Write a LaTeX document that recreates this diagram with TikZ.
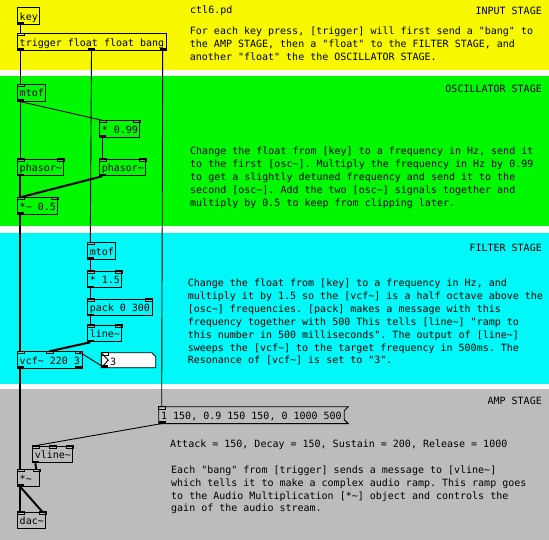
\documentclass[tikz,border=0pt]{standalone}
\usepackage{fontspec}
\setmonofont{DejaVu Sans Mono}
\usepackage{xcolor}
\usepackage{tikz}
\usetikzlibrary{calc}
\definecolor{inputYellow}{RGB}{248,248,0}
\definecolor{oscGreen}{RGB}{0,248,0}
\definecolor{filterCyan}{RGB}{0,248,248}
\definecolor{ampGray}{RGB}{188,188,188}
\newcommand{\Sig}{\textasciitilde}
\tikzset{
  pdobj/.style={draw, line width=0.9pt, anchor=north west, inner xsep=2pt, inner ysep=0pt,
    minimum height=16.7pt, text height=10pt, text depth=2pt},
  pdmsg/.style={pdobj, draw=none, minimum height=16pt},    % outline drawn by hand
  pdnum/.style={anchor=north west, inner sep=0pt, minimum width=54pt, minimum height=14.6pt},
  note/.style={anchor=north west, inner sep=0pt, align=left},
  header/.style={anchor=north east, inner sep=0pt},
  inlet/.style={draw, line width=0.6pt},
  outlet/.style={fill=black},
  ctlWire/.style={line width=0.9pt},
  sigWire/.style={line width=2pt}
}
% inlets and outlets of a box, spread over its width
\newcommand{\PdPorts}[3]{%
  \ifnum#2>0
  \foreach \i in {1,...,#2}{%
    \pgfmathsetmacro{\portFrac}{(\i-1)/max(#2-1,1)}%
    \coordinate (#1-i\i) at ($(#1.north west)!\portFrac!(#1.north east)+({3-7*\portFrac},0)$);
    \draw[inlet] ($(#1-i\i)+(-3,0)$) rectangle ++(7,2.2);
  }%
  \fi
  \ifnum#3>0
  \foreach \i in {1,...,#3}{%
    \pgfmathsetmacro{\portFrac}{(\i-1)/max(#3-1,1)}%
    \coordinate (#1-o\i) at ($(#1.south west)!\portFrac!(#1.south east)+({3-7*\portFrac},0)$);
    \fill[outlet] ($(#1-o\i)+(-3,0)$) rectangle ++(7,-2.5);
  }%
  \fi
}
\newcommand{\PdObj}[6]{%
  \node[pdobj] (#1) at (#2,#3) {#4};
  \PdPorts{#1}{#5}{#6}%
}

\begin{document}
\begin{tikzpicture}[x=1pt, y=-1pt, font=\ttfamily\fontsize{10}{12.9}\selectfont]
  \fill[white] (0,0) rectangle (549,540);
  \useasboundingbox (0,0) rectangle (549,540);
  % stage canvases
  \fill[inputYellow] (0,0) rectangle (549,70);
  \fill[oscGreen] (0,76) rectangle (549,226);
  \fill[filterCyan] (0,232.7) rectangle (549,383.5);
  \fill[ampGray] (0,389) rectangle (549,540);

  % input stage
  \PdObj{key}{17.3}{7.3}{key}{0}{1}
  \PdObj{trig}{17.3}{33.3}{trigger float float bang}{1}{3}
  \node[note] (title) at (190,4.5) {\strut ctl6.pd};
  \node[header] (inputHead) at (542,5) {\strut INPUT STAGE};
  \node[note] (inputNote) at (189.7,25.6) {\strut For each key press, [trigger] will first send a "bang" to\\
    the AMP STAGE, then a "float" to the FILTER STAGE, and\\
    another "float" the the OSCILLATOR STAGE.};

  % oscillator stage
  \PdObj{oscMtof}{17.3}{84}{mtof}{1}{1}
  \PdObj{detune}{99.3}{120.3}{* 0.99}{2}{1}
  \PdObj{phasorA}{17.3}{158.7}{phasor\Sig}{2}{1}
  \PdObj{phasorB}{99.3}{158.7}{phasor\Sig}{2}{1}
  \PdObj{oscMix}{17.3}{197.3}{*\Sig{} 0.5}{2}{1}
  \node[header] (oscHead) at (542,83.6) {\strut OSCILLATOR STAGE};
  \node[note] (oscNote) at (190,145.6) {\strut Change the float from [key] to a frequency in Hz, send it\\
    to the first [osc\Sig]. Multiply the frequency in Hz by 0.99\\
    to get a slightly detuned frequency and send it to the\\
    second [osc\Sig]. Add the two [osc\Sig] signals together and\\
    multiply by 0.5 to keep from clipping later.};

  % filter stage
  \PdObj{filtMtof}{87.3}{242.3}{mtof}{1}{1}
  \PdObj{octUp}{87.3}{270.7}{* 1.5}{2}{1}
  \PdObj{pak}{87.3}{298.7}{pack 0 300}{2}{1}
  \PdObj{ramp}{87.3}{324.7}{line\Sig}{2}{1}
  \PdObj{vcf}{17.3}{351.3}{vcf\Sig{} 220 3}{3}{2}
  \node[pdnum] (resNum) at (101.3,352.7) {};
  \draw[fill=white, line width=0.9pt] (resNum.north west) -- ([xshift=-4pt]resNum.north east)
    -- ([yshift=-4pt]resNum.north east) -- (resNum.south east) -- (resNum.south west) -- cycle;
  \draw[line width=0.9pt] (resNum.north west) -- ([xshift=7pt]resNum.west) -- (resNum.south west);
  \node[anchor=base west, inner sep=0pt] (resVal) at ($(resNum.south west)+(8.7,-2.6)$) {3};
  \PdPorts{resNum}{1}{1}
  \node[header] (filterHead) at (542,242.3) {\strut FILTER STAGE};
  \node[note] (filterNote) at (187.6,277.3) {\strut Change the float from [key] to a frequency in Hz, and\\
    multiply it by 1.5 so the [vcf\Sig] is a half octave above the\\
    {}[osc\Sig] frequencies. [pack] makes a message with this\\
    frequency together with 500 This tells [line\Sig] "ramp to\\
    this number in 500 milliseconds". The output of [line\Sig]\\
    sweeps the [vcf\Sig] to the target frequency in 500ms. The\\
    Resonance of [vcf\Sig] is set to "3".};

  % amp stage
  \node[pdmsg] (adsr) at (158.7,406.7) {1 150, 0.9 150 150, 0 1000 500};
  \draw[line width=0.9pt] (adsr.north west) -- ([xshift=4pt]adsr.north east)
    -- ([yshift=-4pt]adsr.north east) -- ([yshift=4pt]adsr.south east)
    -- ([xshift=4pt]adsr.south east) -- (adsr.south west) -- cycle;
  \PdPorts{adsr}{1}{1}
  \PdObj{env}{32.3}{445.7}{vline\Sig}{3}{1}
  \PdObj{amp}{17.3}{469.3}{*\Sig\phantom{x}}{2}{1}
  \PdObj{dac}{17.3}{511.7}{dac\Sig}{2}{0}
  \node[header] (ampHead) at (542,395.6) {\strut AMP STAGE};
  \node[note] (adsrNote) at (170,438.3) {\strut Attack = 150, Decay = 150, Sustain = 200, Release = 1000};
  \node[note] (ampNote) at (171,464) {\strut Each "bang" from [trigger] sends a message to [vline\Sig]\\
    which tells it to make a complex audio ramp. This ramp goes\\
    to the Audio Multiplication [*\Sig] object and controls the\\
    gain of the audio stream.};

  % connections
  \foreach \a/\b in {key-o1/trig-i1, trig-o1/oscMtof-i1, trig-o2/filtMtof-i1, trig-o3/adsr-i1,
      oscMtof-o1/phasorA-i1, oscMtof-o1/detune-i1, detune-o1/phasorB-i1,
      filtMtof-o1/octUp-i1, octUp-o1/pak-i1, pak-o1/ramp-i1, resNum-o1/vcf-i3, adsr-o1/env-i1}
    \draw[ctlWire] (\a) -- (\b);
  \foreach \a/\b in {phasorA-o1/oscMix-i1, phasorB-o1/oscMix-i1, oscMix-o1/vcf-i1, ramp-o1/vcf-i2,
      vcf-o1/amp-i1, env-o1/amp-i2, amp-o1/dac-i1, amp-o1/dac-i2}
    \draw[sigWire] (\a) -- (\b);
\end{tikzpicture}
\end{document}
